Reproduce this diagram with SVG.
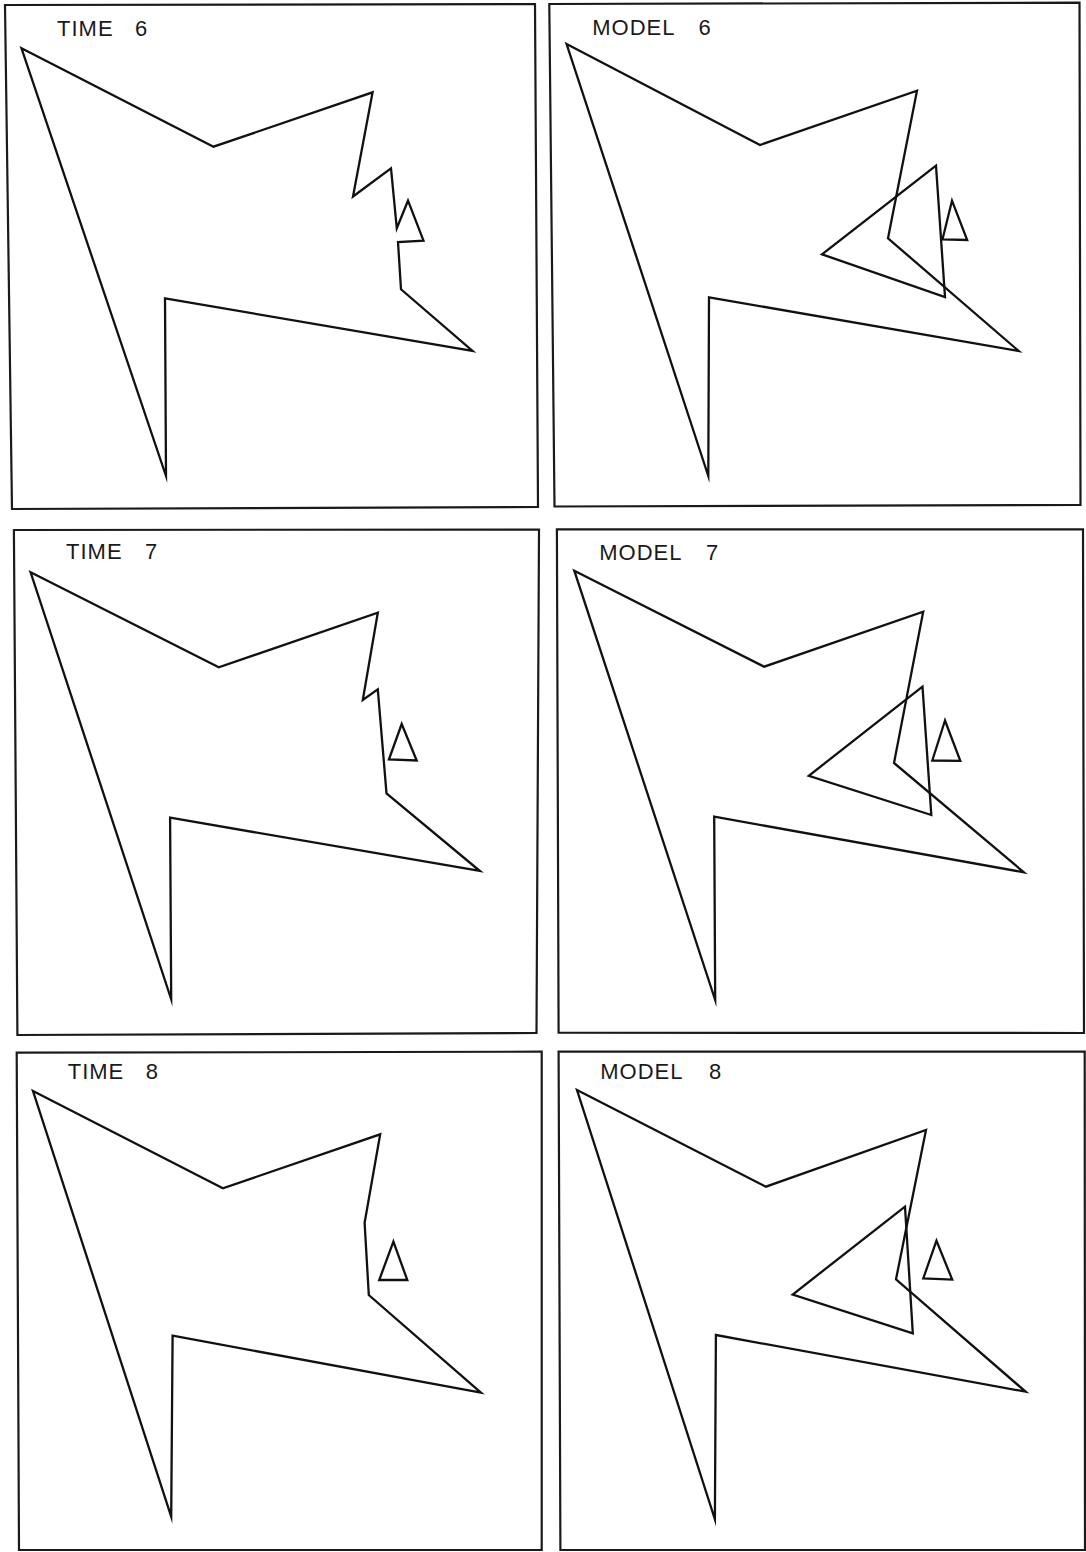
<svg xmlns="http://www.w3.org/2000/svg" width="1086" height="1552" viewBox="0 0 1086 1552">
<style>
  .frame { fill: none; stroke: #1a1a1a; stroke-width: 2.2; stroke-linejoin: miter; }
  .shape { fill: none; stroke: #111; stroke-width: 2.3; stroke-linejoin: miter; stroke-miterlimit: 10; }
  .label { font-family: "Liberation Sans", Arial, sans-serif; font-size: 22px; letter-spacing: 1px; fill: #1a1a1a; }
</style>
<rect width="1086" height="1552" fill="#ffffff"/>

<g id="panel-time6">
  <polygon class="frame" points="5,5 535,4 538,507 12,509"/>
  <text class="label" x="57" y="36">TIME<tspan x="135">6</tspan></text>
  <polygon class="shape" points="21.5,48.3 213.5,146.7 372.6,92.3 353,196.5 391,168.3 396.8,228.3 408,200.7 423.5,240.7 398,242 401,289.3 472.5,351 165,298.3 166,476"/>
</g>

<g id="panel-model6">
  <polygon class="frame" points="549.3,4 1079.5,2.7 1080.5,505 554.5,506.5"/>
  <text class="label" x="592.3" y="34.5">MODEL<tspan x="698.6">6</tspan></text>
  <polygon class="shape" points="566.6,44 760,145 917,90.7 888,238.3 1018.7,351 709,297.3 708.3,476"/>
  <polygon class="shape" points="936,165.7 822,254.3 945,297"/>
  <polygon class="shape" points="952,200.7 967.2,240 942.5,239.3"/>
</g>

<g id="panel-time7">
  <polygon class="frame" points="13.9,530 539,529.5 536.5,1033 17.4,1035"/>
  <text class="label" x="66" y="559">TIME<tspan x="145">7</tspan></text>
  <polygon class="shape" points="30.6,572.3 218.8,667.3 377.8,612.7 362.8,700 377.8,689.3 386.5,793.3 479.9,871 170.1,817.7 171.2,999.3"/>
  <polygon class="shape" points="401.7,724 388.9,759.5 416.7,760.5"/>
</g>

<g id="panel-model7">
  <polygon class="frame" points="556.9,529.3 1083,529.3 1084,1033 558.6,1032.7"/>
  <text class="label" x="599.3" y="560">MODEL<tspan x="706">7</tspan></text>
  <polygon class="shape" points="574.3,570.7 764.2,666.7 923.2,611.7 894,763 1023.9,872.3 714.2,816.7 715.2,1000"/>
  <polygon class="shape" points="922.5,686.7 808.8,775.8 931.3,815"/>
  <polygon class="shape" points="945,720.5 932.3,760.5 960.3,760.8"/>
</g>

<g id="panel-time8">
  <polygon class="frame" points="16.7,1052.7 541.7,1051.7 541.7,1550 19,1550"/>
  <text class="label" x="67.7" y="1079.3">TIME<tspan x="145.8">8</tspan></text>
  <polygon class="shape" points="33,1091 222.9,1188.3 380.2,1134.3 364.6,1222.7 368.8,1295 480.9,1392.7 172.6,1335.7 171.2,1516.7"/>
  <polygon class="shape" points="393.4,1241.7 379.2,1280 407.3,1280"/>
</g>

<g id="panel-model8">
  <polygon class="frame" points="558.6,1051.7 1084.7,1051.7 1085,1550 560.4,1550"/>
  <text class="label" x="600.3" y="1079.3">MODEL<tspan x="709">8</tspan></text>
  <polygon class="shape" points="577,1090 765.9,1186.7 926,1130 896,1279.3 1025.6,1391.7 715.9,1335 714.9,1519.3"/>
  <polygon class="shape" points="905,1206.7 792.7,1294.5 912.8,1333.3"/>
  <polygon class="shape" points="936.5,1240.7 923.3,1278.3 952.2,1279.6"/>
</g>
</svg>
